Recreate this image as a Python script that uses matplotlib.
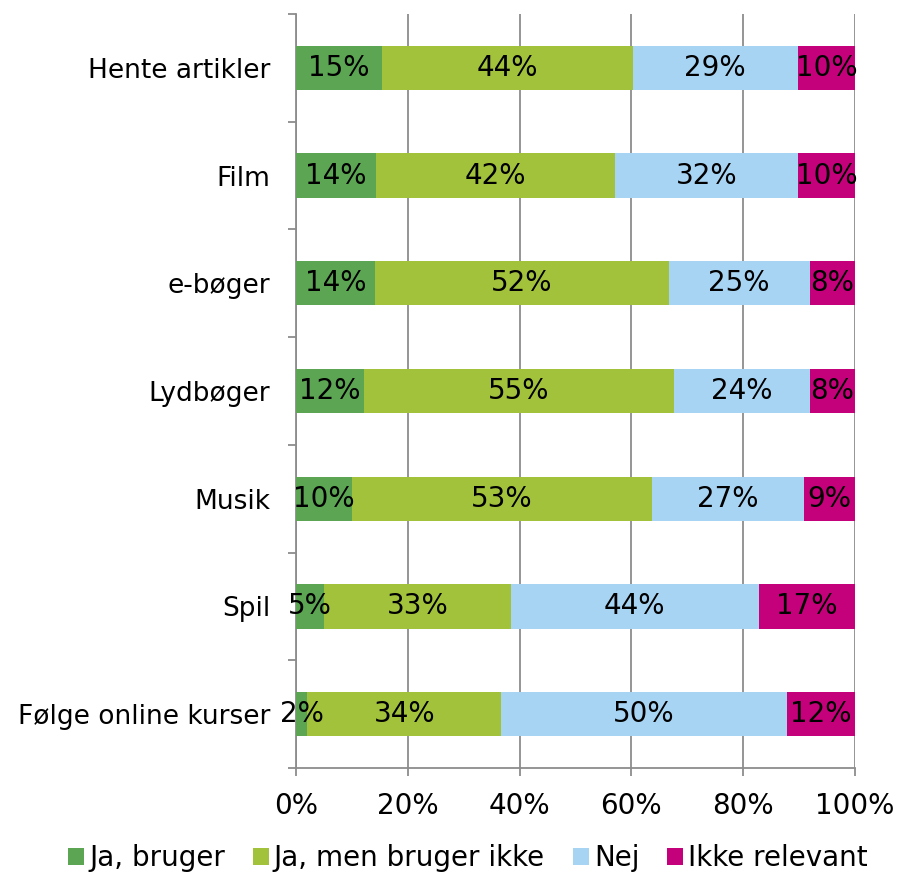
import numpy as np
import matplotlib.pyplot as plt
from matplotlib.ticker import FixedLocator

categories = ['Hente artikler', 'Film', 'e-bøger', 'Lydbøger', 'Musik', 'Spil',
              'Følge online kurser']
series = ['Ja, bruger', 'Ja, men bruger ikke', 'Nej', 'Ikke relevant']
ja_bruger = [15, 14, 14, 12, 10, 5, 2]
ja_ikke = [44, 42, 52, 55, 53, 33, 34]
nej = [29, 32, 25, 24, 27, 44, 50]
ikke_relevant = [10, 10, 8, 8, 9, 17, 12]
colors = ['#5BA553', '#A3C23C', '#A8D4F4', '#C4007A']

plt.rcParams['font.family'] = ['DejaVu Sans']
plt.rcParams['font.size'] = 20

data = np.array([ja_bruger, ja_ikke, nej, ikke_relevant], dtype=float)
# bars are stacked to 100% of the row total
shares = data / data.sum(axis=0) * 100

fig = plt.figure(figsize=(8.97, 8.75), dpi=100)
ax = fig.add_axes([296 / 897, 1 - 768 / 875, 559 / 897, 754 / 875])

y = np.arange(len(categories))
left = np.zeros(len(categories))
for i, name in enumerate(series):
    ax.barh(y, shares[i], left=left, height=0.41, color=colors[i], label=name,
            zorder=3)
    for j in range(len(categories)):
        ax.text(left[j] + shares[i][j] / 2, y[j], f'{data[i][j]:.0f}%',
                ha='center', va='center', color='black', zorder=4)
    left += shares[i]

ax.set_xlim(0, 100)
ax.set_ylim(len(categories) - 0.5, -0.5)
ax.set_xticks(np.arange(0, 101, 20))
ax.set_xticklabels([f'{v}%' for v in range(0, 101, 20)])
ax.xaxis.grid(True, color='#8C8C8C', linewidth=1.3, zorder=0)

ax.set_yticks(y)
ax.set_yticklabels(categories, fontsize=19)
ax.yaxis.set_minor_locator(FixedLocator(np.arange(-0.5, len(categories), 1)))
ax.tick_params(axis='y', which='major', length=0, pad=18.5)
ax.tick_params(axis='y', which='minor', length=6, color='#8C8C8C', width=1.3)
ax.tick_params(axis='x', length=6, color='#8C8C8C', width=1.3, pad=11)

for side in ['top', 'right']:
    ax.spines[side].set_visible(False)
for side in ['left', 'bottom']:
    ax.spines[side].set_color('#8C8C8C')
    ax.spines[side].set_linewidth(1.3)

fig.legend(loc='center', bbox_to_anchor=(468 / 897, 1 - 858 / 875), ncol=4,
           frameon=False, handlelength=0.58, handleheight=0.58,
           handletextpad=0.18, columnspacing=1.0, borderpad=0)

fig.savefig('out.png', dpi=100)
